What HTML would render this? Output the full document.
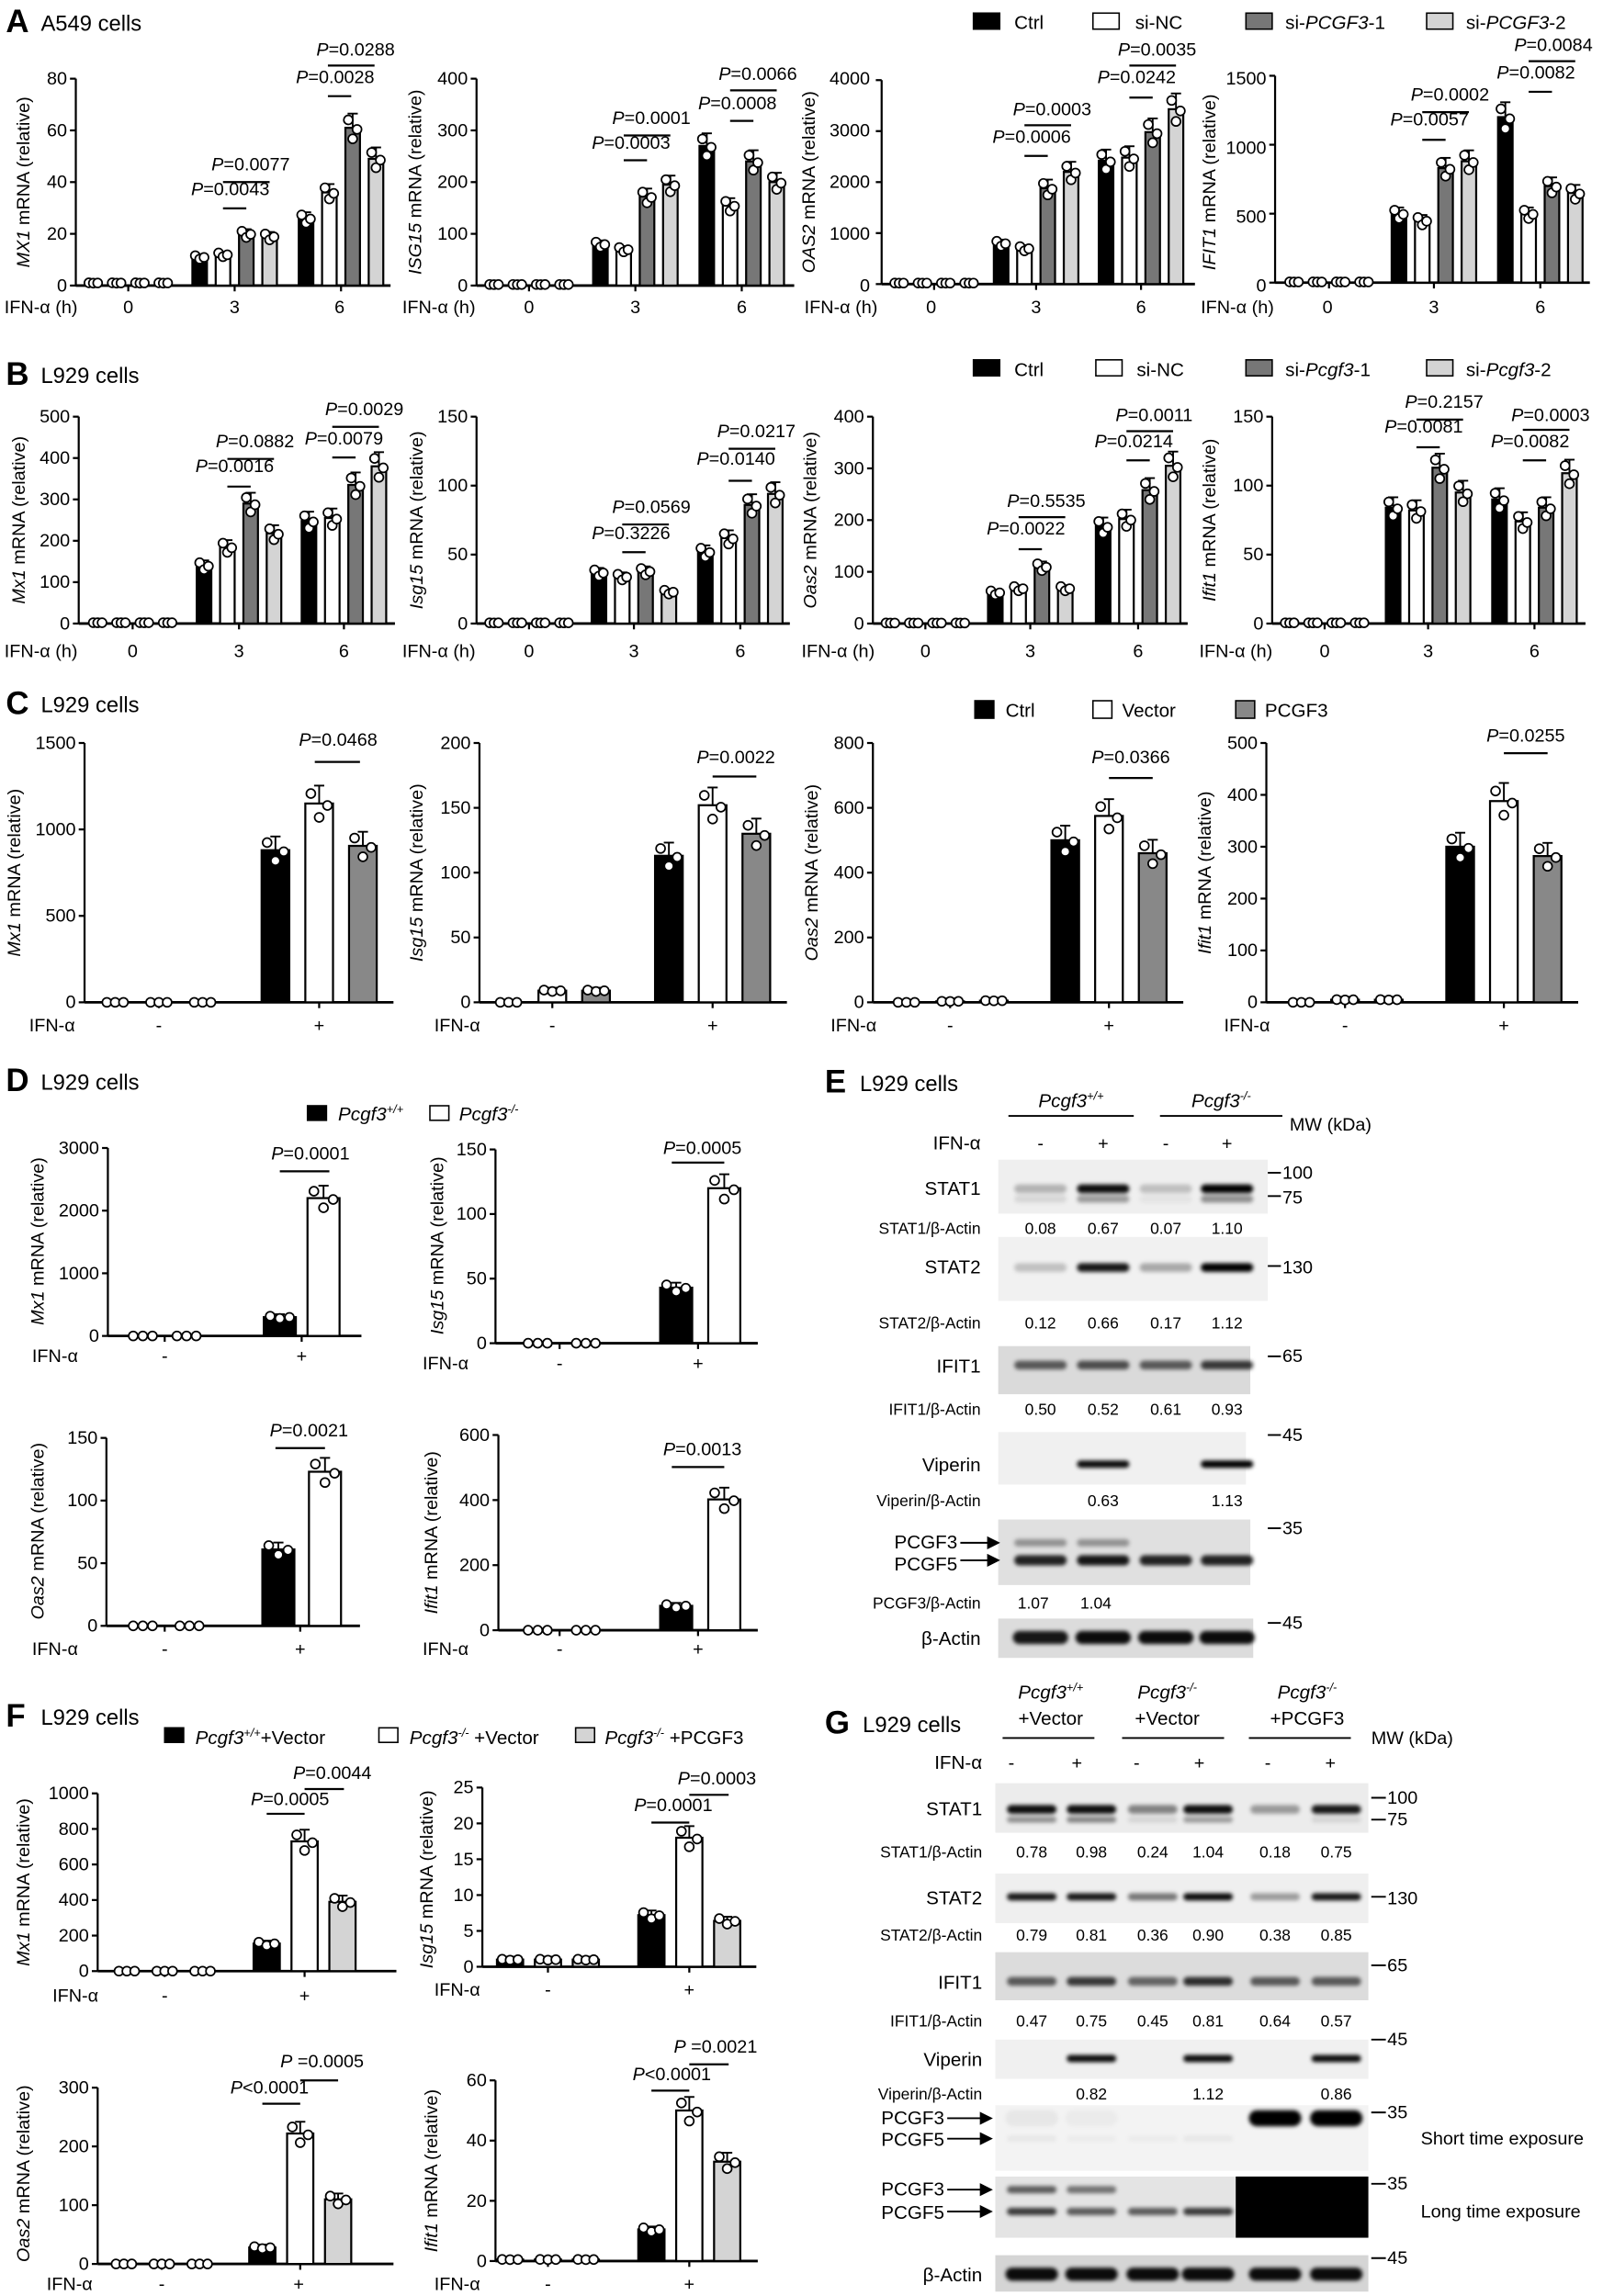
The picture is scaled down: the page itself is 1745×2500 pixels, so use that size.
<!DOCTYPE html>
<html><head><meta charset="utf-8"><style>
html,body{margin:0;padding:0;background:#fff}
svg{display:block}
text{font-family:"Liberation Sans",Arial,sans-serif;fill:#000}
.tk{font-size:12.5px;text-anchor:end}
.xl{font-size:12.5px;text-anchor:middle}
.p{font-size:12.5px;text-anchor:middle}
.yl{font-size:12.5px;text-anchor:middle}
.L{font-size:22px;font-weight:bold}
.ti{font-size:15px}
.lg{font-size:13px}
.bl{font-size:13px;text-anchor:end}
.bv{font-size:11px;text-anchor:middle}
.br{font-size:11px;text-anchor:end}
.mw{font-size:12.5px}
</style></head><body>
<svg id="s" xmlns="http://www.w3.org/2000/svg" width="1745" height="2500" viewBox="0 0 1100 1576">
<defs><filter id="bl" x="-20%" y="-100%" width="140%" height="300%"><feGaussianBlur stdDeviation="1.3"/></filter></defs>
<g id="geo" stroke="#000" stroke-width="1.4" fill="none"></g>

<!-- ============ A ============ -->
<text x="4" y="22" class="L">A</text><text x="28" y="21" class="ti">A549  cells</text>
<rect x="668" y="9" width="18" height="11" fill="#000" stroke="#000"/><text x="696" y="20" class="lg">Ctrl</text>
<rect x="750" y="9" width="18" height="11" fill="#fff" stroke="#000"/><text x="779" y="20" class="lg">si-NC</text>
<rect x="855" y="9" width="18" height="11" fill="#777" stroke="#000"/><text x="882" y="20" class="lg">si-<tspan font-style="italic">PCGF3</tspan>-1</text>
<rect x="979" y="9" width="18" height="11" fill="#d4d4d4" stroke="#000"/><text x="1006" y="20" class="lg">si-<tspan font-style="italic">PCGF3</tspan>-2</text>

<text class="tk" x="46" y="200">0</text><text class="tk" x="46" y="164.5">20</text><text class="tk" x="46" y="129">40</text><text class="tk" x="46" y="93.5">60</text><text class="tk" x="46" y="58">80</text>
<text class="yl" transform="translate(20,125) rotate(-90)"><tspan font-style="italic">MX1</tspan> mRNA (relative)</text>
<text class="tk" x="321" y="200">0</text><text class="tk" x="321" y="164.5">100</text><text class="tk" x="321" y="129">200</text><text class="tk" x="321" y="93.5">300</text><text class="tk" x="321" y="58">400</text>
<text class="yl" transform="translate(289,125) rotate(-90)"><tspan font-style="italic">ISG15</tspan> mRNA (relative)</text>
<text class="tk" x="597" y="200">0</text><text class="tk" x="597" y="164.5">1000</text><text class="tk" x="597" y="129">2000</text><text class="tk" x="597" y="93.5">3000</text><text class="tk" x="597" y="58">4000</text>
<text class="yl" transform="translate(559,125) rotate(-90)"><tspan font-style="italic">OAS2</tspan> mRNA (relative)</text>
<text class="tk" x="869" y="200">0</text><text class="tk" x="869" y="153">500</text><text class="tk" x="869" y="105.5">1000</text><text class="tk" x="869" y="58">1500</text>
<text class="yl" transform="translate(834,125) rotate(-90)"><tspan font-style="italic">IFIT1</tspan> mRNA (relative)</text>
<g>
<text x="3" y="215" style="font-size:12.5px">IFN-α (h)</text><text class="xl" x="88" y="215">0</text><text class="xl" x="161" y="215">3</text><text class="xl" x="233" y="215">6</text>
<text x="276" y="215" style="font-size:12.5px">IFN-α (h)</text><text class="xl" x="363" y="215">0</text><text class="xl" x="436" y="215">3</text><text class="xl" x="509" y="215">6</text>
<text x="552" y="215" style="font-size:12.5px">IFN-α (h)</text><text class="xl" x="639" y="215">0</text><text class="xl" x="711" y="215">3</text><text class="xl" x="783" y="215">6</text>
<text x="824" y="215" style="font-size:12.5px">IFN-α (h)</text><text class="xl" x="911" y="215">0</text><text class="xl" x="984" y="215">3</text><text class="xl" x="1057" y="215">6</text>
</g>
<text class="p" x="158" y="134"><tspan font-style="italic">P</tspan>=0.0043</text>
<text class="p" x="172" y="117"><tspan font-style="italic">P</tspan>=0.0077</text>
<text class="p" x="230" y="57"><tspan font-style="italic">P</tspan>=0.0028</text>
<text class="p" x="244" y="38"><tspan font-style="italic">P</tspan>=0.0288</text>
<text class="p" x="433" y="102"><tspan font-style="italic">P</tspan>=0.0003</text>
<text class="p" x="447" y="85"><tspan font-style="italic">P</tspan>=0.0001</text>
<text class="p" x="506" y="75"><tspan font-style="italic">P</tspan>=0.0008</text>
<text class="p" x="520" y="55"><tspan font-style="italic">P</tspan>=0.0066</text>
<text class="p" x="708" y="98"><tspan font-style="italic">P</tspan>=0.0006</text>
<text class="p" x="722" y="79"><tspan font-style="italic">P</tspan>=0.0003</text>
<text class="p" x="780" y="57"><tspan font-style="italic">P</tspan>=0.0242</text>
<text class="p" x="794" y="38"><tspan font-style="italic">P</tspan>=0.0035</text>
<text class="p" x="981" y="86"><tspan font-style="italic">P</tspan>=0.0057</text>
<text class="p" x="995" y="69"><tspan font-style="italic">P</tspan>=0.0002</text>
<text class="p" x="1054" y="54"><tspan font-style="italic">P</tspan>=0.0082</text>
<text class="p" x="1066" y="35"><tspan font-style="italic">P</tspan>=0.0084</text>

<!-- ============ B ============ -->
<text x="4" y="264" class="L">B</text><text x="28" y="263" class="ti">L929 cells</text>
<rect x="668" y="247" width="18" height="11" fill="#000" stroke="#000"/><text x="696" y="258" class="lg">Ctrl</text>
<rect x="752" y="247" width="18" height="11" fill="#fff" stroke="#000"/><text x="780" y="258" class="lg">si-NC</text>
<rect x="855" y="247" width="18" height="11" fill="#777" stroke="#000"/><text x="882" y="258" class="lg">si-<tspan font-style="italic">Pcgf3</tspan>-1</text>
<rect x="979" y="247" width="18" height="11" fill="#d4d4d4" stroke="#000"/><text x="1006" y="258" class="lg">si-<tspan font-style="italic">Pcgf3</tspan>-2</text>
<text class="tk" x="48" y="432">0</text><text class="tk" x="48" y="403.6">100</text><text class="tk" x="48" y="375.2">200</text><text class="tk" x="48" y="346.8">300</text><text class="tk" x="48" y="318.4">400</text><text class="tk" x="48" y="290">500</text>
<text class="yl" transform="translate(17,357) rotate(-90)"><tspan font-style="italic">Mx1</tspan> mRNA (relative)</text>
<text class="tk" x="321" y="432">0</text><text class="tk" x="321" y="384.7">50</text><text class="tk" x="321" y="337.3">100</text><text class="tk" x="321" y="290">150</text>
<text class="yl" transform="translate(290,357) rotate(-90)"><tspan font-style="italic">Isg15</tspan> mRNA (relative)</text>
<text class="tk" x="593" y="432">0</text><text class="tk" x="593" y="396.5">100</text><text class="tk" x="593" y="361">200</text><text class="tk" x="593" y="325.5">300</text><text class="tk" x="593" y="290">400</text>
<text class="yl" transform="translate(560,357) rotate(-90)"><tspan font-style="italic">Oas2</tspan> mRNA (relative)</text>
<text class="tk" x="867" y="432">0</text><text class="tk" x="867" y="384.7">50</text><text class="tk" x="867" y="337.3">100</text><text class="tk" x="867" y="290">150</text>
<text class="yl" transform="translate(834,357) rotate(-90)"><tspan font-style="italic">Ifit1</tspan> mRNA (relative)</text>
<text x="3" y="451" style="font-size:12.5px">IFN-α (h)</text><text class="xl" x="91" y="451">0</text><text class="xl" x="164" y="451">3</text><text class="xl" x="236" y="451">6</text>
<text x="276" y="451" style="font-size:12.5px">IFN-α (h)</text><text class="xl" x="363" y="451">0</text><text class="xl" x="435" y="451">3</text><text class="xl" x="508" y="451">6</text>
<text x="550" y="451" style="font-size:12.5px">IFN-α (h)</text><text class="xl" x="635" y="451">0</text><text class="xl" x="707" y="451">3</text><text class="xl" x="781" y="451">6</text>
<text x="823" y="451" style="font-size:12.5px">IFN-α (h)</text><text class="xl" x="909" y="451">0</text><text class="xl" x="980" y="451">3</text><text class="xl" x="1053" y="451">6</text>
<text class="p" x="161" y="324"><tspan font-style="italic">P</tspan>=0.0016</text>
<text class="p" x="175" y="307"><tspan font-style="italic">P</tspan>=0.0882</text>
<text class="p" x="236" y="305"><tspan font-style="italic">P</tspan>=0.0079</text>
<text class="p" x="250" y="285"><tspan font-style="italic">P</tspan>=0.0029</text>
<text class="p" x="433" y="370"><tspan font-style="italic">P</tspan>=0.3226</text>
<text class="p" x="447" y="352"><tspan font-style="italic">P</tspan>=0.0569</text>
<text class="p" x="505" y="319"><tspan font-style="italic">P</tspan>=0.0140</text>
<text class="p" x="519" y="300"><tspan font-style="italic">P</tspan>=0.0217</text>
<text class="p" x="704" y="367"><tspan font-style="italic">P</tspan>=0.0022</text>
<text class="p" x="718" y="348"><tspan font-style="italic">P</tspan>=0.5535</text>
<text class="p" x="778" y="307"><tspan font-style="italic">P</tspan>=0.0214</text>
<text class="p" x="792" y="289"><tspan font-style="italic">P</tspan>=0.0011</text>
<text class="p" x="977" y="297"><tspan font-style="italic">P</tspan>=0.0081</text>
<text class="p" x="991" y="280"><tspan font-style="italic">P</tspan>=0.2157</text>
<text class="p" x="1050" y="307"><tspan font-style="italic">P</tspan>=0.0082</text>
<text class="p" x="1064" y="289"><tspan font-style="italic">P</tspan>=0.0003</text>

<!-- ============ C ============ -->
<text x="4" y="490" class="L">C</text><text x="28" y="489" class="ti">L929 cells</text>
<rect x="669" y="481" width="13" height="12" fill="#000" stroke="#000"/><text x="690" y="492" class="lg">Ctrl</text>
<rect x="750" y="481" width="13" height="12" fill="#fff" stroke="#000"/><text x="770" y="492" class="lg">Vector</text>
<rect x="848" y="481" width="13" height="12" fill="#888" stroke="#000"/><text x="868" y="492" class="lg">PCGF3</text>
<text class="tk" x="52" y="692">0</text><text class="tk" x="52" y="632.7">500</text><text class="tk" x="52" y="573.3">1000</text><text class="tk" x="52" y="514">1500</text>
<text class="yl" transform="translate(14,599) rotate(-90)"><tspan font-style="italic">Mx1</tspan> mRNA (relative)</text>
<text class="tk" x="323" y="692">0</text><text class="tk" x="323" y="647.5">50</text><text class="tk" x="323" y="603">100</text><text class="tk" x="323" y="558.5">150</text><text class="tk" x="323" y="514">200</text>
<text class="yl" transform="translate(290,599) rotate(-90)"><tspan font-style="italic">Isg15</tspan> mRNA (relative)</text>
<text class="tk" x="593" y="692">0</text><text class="tk" x="593" y="647.5">200</text><text class="tk" x="593" y="603">400</text><text class="tk" x="593" y="558.5">600</text><text class="tk" x="593" y="514">800</text>
<text class="yl" transform="translate(561,599) rotate(-90)"><tspan font-style="italic">Oas2</tspan> mRNA (relative)</text>
<text class="tk" x="863" y="692">0</text><text class="tk" x="863" y="656.4">100</text><text class="tk" x="863" y="620.8">200</text><text class="tk" x="863" y="585.2">300</text><text class="tk" x="863" y="549.6">400</text><text class="tk" x="863" y="514">500</text>
<text class="yl" transform="translate(831,599) rotate(-90)"><tspan font-style="italic">Ifit1</tspan> mRNA (relative)</text>
<text x="20" y="708" style="font-size:12.5px">IFN-α</text><text class="xl" x="109" y="708">-</text><text class="xl" x="219" y="708">+</text>
<text x="298" y="708" style="font-size:12.5px">IFN-α</text><text class="xl" x="379" y="708">-</text><text class="xl" x="489" y="708">+</text>
<text x="570" y="708" style="font-size:12.5px">IFN-α</text><text class="xl" x="652" y="708">-</text><text class="xl" x="761" y="708">+</text>
<text x="840" y="708" style="font-size:12.5px">IFN-α</text><text class="xl" x="923" y="708">-</text><text class="xl" x="1032" y="708">+</text>
<text class="p" x="232" y="512"><tspan font-style="italic">P</tspan>=0.0468</text>
<text class="p" x="505" y="524"><tspan font-style="italic">P</tspan>=0.0022</text>
<text class="p" x="776" y="524"><tspan font-style="italic">P</tspan>=0.0366</text>
<text class="p" x="1047" y="509"><tspan font-style="italic">P</tspan>=0.0255</text>

<!-- ============ D ============ -->
<text x="4" y="749" class="L">D</text><text x="28" y="748" class="ti">L929 cells</text>
<rect x="211" y="759" width="13" height="10" fill="#000" stroke="#000"/><text x="232" y="769" class="lg" font-style="italic">Pcgf3<tspan font-size="8" dy="-5">+/+</tspan></text>
<rect x="295" y="759" width="13" height="10" fill="#fff" stroke="#000"/><text x="315" y="769" class="lg" font-style="italic">Pcgf3<tspan font-size="8" dy="-5">-/-</tspan></text>
<text class="tk" x="68" y="921">0</text><text class="tk" x="68" y="878">1000</text><text class="tk" x="68" y="835">2000</text><text class="tk" x="68" y="792">3000</text>
<text class="yl" transform="translate(30,852) rotate(-90)"><tspan font-style="italic">Mx1</tspan> mRNA (relative)</text>
<text class="tk" x="334" y="926">0</text><text class="tk" x="334" y="881.7">50</text><text class="tk" x="334" y="837.3">100</text><text class="tk" x="334" y="793">150</text>
<text class="yl" transform="translate(304,855) rotate(-90)"><tspan font-style="italic">Isg15</tspan> mRNA (relative)</text>
<text x="22" y="935" style="font-size:12.5px">IFN-α</text><text class="xl" x="113" y="935">-</text><text class="xl" x="207" y="935">+</text>
<text x="290" y="940" style="font-size:12.5px">IFN-α</text><text class="xl" x="384" y="940">-</text><text class="xl" x="479" y="940">+</text>
<text class="tk" x="67" y="1120">0</text><text class="tk" x="67" y="1077">50</text><text class="tk" x="67" y="1034">100</text><text class="tk" x="67" y="991">150</text>
<text class="yl" transform="translate(30,1051) rotate(-90)"><tspan font-style="italic">Oas2</tspan> mRNA (relative)</text>
<text class="tk" x="336" y="1123">0</text><text class="tk" x="336" y="1078.3">200</text><text class="tk" x="336" y="1033.7">400</text><text class="tk" x="336" y="989">600</text>
<text class="yl" transform="translate(300,1052) rotate(-90)"><tspan font-style="italic">Ifit1</tspan> mRNA (relative)</text>
<text x="22" y="1136" style="font-size:12.5px">IFN-α</text><text class="xl" x="113" y="1136">-</text><text class="xl" x="206" y="1136">+</text>
<text x="290" y="1136" style="font-size:12.5px">IFN-α</text><text class="xl" x="384" y="1136">-</text><text class="xl" x="479" y="1136">+</text>
<text class="p" x="213" y="796"><tspan font-style="italic">P</tspan>=0.0001</text>
<text class="p" x="482" y="792"><tspan font-style="italic">P</tspan>=0.0005</text>
<text class="p" x="212" y="986"><tspan font-style="italic">P</tspan>=0.0021</text>
<text class="p" x="482" y="999"><tspan font-style="italic">P</tspan>=0.0013</text>

<!-- ============ E ============ -->
<text x="566" y="750" class="L">E</text><text x="590" y="749" class="ti">L929 cells</text>
<text x="735" y="760" class="lg" text-anchor="middle" font-style="italic">Pcgf3<tspan font-size="8" dy="-5">+/+</tspan></text>
<text x="838" y="760" class="lg" text-anchor="middle" font-style="italic">Pcgf3<tspan font-size="8" dy="-5">-/-</tspan></text>
<line x1="692" y1="766" x2="778" y2="766" stroke="#000" stroke-width="1.2"/><line x1="796" y1="766" x2="880" y2="766" stroke="#000" stroke-width="1.2"/>
<text x="885" y="776" class="mw">MW (kDa)</text>
<text x="673" y="789" class="bl">IFN-α</text>
<text x="714" y="789" class="xl">-</text><text x="757" y="789" class="xl">+</text><text x="800" y="789" class="xl">-</text><text x="842" y="789" class="xl">+</text>
<rect x="685" y="796" width="185" height="37" fill="#efefef"/>
<rect x="685" y="849" width="185" height="44" fill="#f1f1f1"/>
<rect x="685" y="924" width="173" height="33" fill="#dadada"/>
<rect x="685" y="983" width="170" height="36" fill="#f0f0f0"/>
<rect x="685" y="1043" width="173" height="45" fill="#e0e0e0"/>
<rect x="685" y="1111" width="175" height="27" fill="#dcdcdc"/>
<text x="673" y="820" class="bl">STAT1</text><text x="673" y="874" class="bl">STAT2</text><text x="673" y="942" class="bl">IFIT1</text><text x="673" y="1010" class="bl">Viperin</text>
<text x="657" y="1063" class="bl">PCGF3</text><text x="657" y="1078" class="bl">PCGF5</text><text x="673" y="1129" class="bl">β-Actin</text>
<text x="673" y="847" class="br">STAT1/β-Actin</text><text x="714" y="847" class="bv">0.08</text><text x="757" y="847" class="bv">0.67</text><text x="800" y="847" class="bv">0.07</text><text x="842" y="847" class="bv">1.10</text>
<text x="673" y="912" class="br">STAT2/β-Actin</text><text x="714" y="912" class="bv">0.12</text><text x="757" y="912" class="bv">0.66</text><text x="800" y="912" class="bv">0.17</text><text x="842" y="912" class="bv">1.12</text>
<text x="673" y="971" class="br">IFIT1/β-Actin</text><text x="714" y="971" class="bv">0.50</text><text x="757" y="971" class="bv">0.52</text><text x="800" y="971" class="bv">0.61</text><text x="842" y="971" class="bv">0.93</text>
<text x="673" y="1034" class="br">Viperin/β-Actin</text><text x="757" y="1034" class="bv">0.63</text><text x="842" y="1034" class="bv">1.13</text>
<text x="673" y="1104" class="br">PCGF3/β-Actin</text><text x="709" y="1104" class="bv">1.07</text><text x="752" y="1104" class="bv">1.04</text>
<text x="880" y="809" class="mw">100</text><text x="880" y="826" class="mw">75</text><text x="880" y="874" class="mw">130</text><text x="880" y="935" class="mw">65</text><text x="880" y="989" class="mw">45</text><text x="880" y="1053" class="mw">35</text><text x="880" y="1118" class="mw">45</text>

<!-- ============ F ============ -->
<text x="4" y="1185" class="L">F</text><text x="28" y="1184" class="ti">L929 cells</text>
<rect x="113" y="1186" width="13" height="10" fill="#000" stroke="#000"/><text x="134" y="1197" class="lg"><tspan font-style="italic">Pcgf3</tspan><tspan font-size="8" dy="-5" font-style="italic">+/+</tspan><tspan dy="5">+Vector</tspan></text>
<rect x="260" y="1186" width="13" height="10" fill="#fff" stroke="#000"/><text x="281" y="1197" class="lg"><tspan font-style="italic">Pcgf3</tspan><tspan font-size="8" dy="-5" font-style="italic">-/-</tspan><tspan dy="5"> +Vector</tspan></text>
<rect x="395" y="1186" width="13" height="10" fill="#d4d4d4" stroke="#000"/><text x="415" y="1197" class="lg"><tspan font-style="italic">Pcgf3</tspan><tspan font-size="8" dy="-5" font-style="italic">-/-</tspan><tspan dy="5"> +PCGF3</tspan></text>
<text class="tk" x="61" y="1357">0</text><text class="tk" x="61" y="1332.6">200</text><text class="tk" x="61" y="1308.2">400</text><text class="tk" x="61" y="1283.8">600</text><text class="tk" x="61" y="1259.4">800</text><text class="tk" x="61" y="1235">1000</text>
<text class="yl" transform="translate(20,1292) rotate(-90)"><tspan font-style="italic">Mx1</tspan> mRNA (relative)</text>
<text class="tk" x="325" y="1354">0</text><text class="tk" x="325" y="1329.4">5</text><text class="tk" x="325" y="1304.8">10</text><text class="tk" x="325" y="1280.2">15</text><text class="tk" x="325" y="1255.6">20</text><text class="tk" x="325" y="1231">25</text>
<text class="yl" transform="translate(297,1290) rotate(-90)"><tspan font-style="italic">Isg15</tspan> mRNA (relative)</text>
<text x="36" y="1374" style="font-size:12.5px">IFN-α</text><text class="xl" x="113" y="1374">-</text><text class="xl" x="209" y="1374">+</text>
<text x="298" y="1370" style="font-size:12.5px">IFN-α</text><text class="xl" x="376" y="1370">-</text><text class="xl" x="473" y="1370">+</text>
<text class="tk" x="61" y="1558">0</text><text class="tk" x="61" y="1517.7">100</text><text class="tk" x="61" y="1477.3">200</text><text class="tk" x="61" y="1437">300</text>
<text class="yl" transform="translate(20,1492) rotate(-90)"><tspan font-style="italic">Oas2</tspan> mRNA (relative)</text>
<text class="tk" x="334" y="1556">0</text><text class="tk" x="334" y="1514.7">20</text><text class="tk" x="334" y="1473.3">40</text><text class="tk" x="334" y="1432">60</text>
<text class="yl" transform="translate(300,1490) rotate(-90)"><tspan font-style="italic">Ifit1</tspan> mRNA (relative)</text>
<text x="32" y="1572" style="font-size:12.5px">IFN-α</text><text class="xl" x="111" y="1572">-</text><text class="xl" x="205" y="1572">+</text>
<text x="298" y="1572" style="font-size:12.5px">IFN-α</text><text class="xl" x="376" y="1572">-</text><text class="xl" x="473" y="1572">+</text>
<text class="p" x="199" y="1239"><tspan font-style="italic">P</tspan>=0.0005</text>
<text class="p" x="228" y="1221"><tspan font-style="italic">P</tspan>=0.0044</text>
<text class="p" x="462" y="1243"><tspan font-style="italic">P</tspan>=0.0001</text>
<text class="p" x="492" y="1225"><tspan font-style="italic">P</tspan>=0.0003</text>
<text class="p" x="185" y="1437"><tspan font-style="italic">P</tspan>&lt;0.0001</text>
<text class="p" x="221" y="1419"><tspan font-style="italic">P</tspan> =0.0005</text>
<text class="p" x="461" y="1428"><tspan font-style="italic">P</tspan>&lt;0.0001</text>
<text class="p" x="491" y="1409"><tspan font-style="italic">P</tspan> =0.0021</text>

<!-- ============ G ============ -->
<text x="566" y="1190" class="L">G</text><text x="592" y="1189" class="ti">L929 cells</text>
<text x="721" y="1166" class="lg" text-anchor="middle" font-style="italic">Pcgf3<tspan font-size="8" dy="-5">+/+</tspan></text><text x="721" y="1184" class="lg" text-anchor="middle">+Vector</text>
<text x="801" y="1166" class="lg" text-anchor="middle" font-style="italic">Pcgf3<tspan font-size="8" dy="-5">-/-</tspan></text><text x="801" y="1184" class="lg" text-anchor="middle">+Vector</text>
<text x="897" y="1166" class="lg" text-anchor="middle" font-style="italic">Pcgf3<tspan font-size="8" dy="-5">-/-</tspan></text><text x="897" y="1184" class="lg" text-anchor="middle">+PCGF3</text>
<line x1="688" y1="1193" x2="751" y2="1193" stroke="#000" stroke-width="1.2"/><line x1="770" y1="1193" x2="840" y2="1193" stroke="#000" stroke-width="1.2"/><line x1="857" y1="1193" x2="927" y2="1193" stroke="#000" stroke-width="1.2"/>
<text x="941" y="1197" class="mw">MW (kDa)</text>
<text x="674" y="1214" class="bl">IFN-α</text>
<text x="694" y="1214" class="xl">-</text><text x="739" y="1214" class="xl">+</text><text x="780" y="1214" class="xl">-</text><text x="823" y="1214" class="xl">+</text><text x="870" y="1214" class="xl">-</text><text x="913" y="1214" class="xl">+</text>
<rect x="683" y="1224" width="256" height="34" fill="#ececec"/>
<rect x="683" y="1286" width="256" height="34" fill="#efefef"/>
<rect x="683" y="1340" width="256" height="33" fill="#dcdcdc"/>
<rect x="683" y="1400" width="256" height="27" fill="#f0f0f0"/>
<rect x="683" y="1445" width="256" height="45" fill="#f3f3f3"/>
<rect x="683" y="1494" width="256" height="42" fill="#e4e4e4"/>
<rect x="683" y="1548" width="256" height="25" fill="#d5d5d5"/>
<text x="674" y="1246" class="bl">STAT1</text><text x="674" y="1307" class="bl">STAT2</text><text x="674" y="1365" class="bl">IFIT1</text><text x="674" y="1418" class="bl">Viperin</text>
<text x="648" y="1458" class="bl">PCGF3</text><text x="648" y="1473" class="bl">PCGF5</text>
<text x="648" y="1507" class="bl">PCGF3</text><text x="648" y="1523" class="bl">PCGF5</text>
<text x="674" y="1566" class="bl">β-Actin</text>
<text x="674" y="1275" class="br">STAT1/β-Actin</text><text x="708" y="1275" class="bv">0.78</text><text x="749" y="1275" class="bv">0.98</text><text x="791" y="1275" class="bv">0.24</text><text x="829" y="1275" class="bv">1.04</text><text x="875" y="1275" class="bv">0.18</text><text x="917" y="1275" class="bv">0.75</text>
<text x="674" y="1332" class="br">STAT2/β-Actin</text><text x="708" y="1332" class="bv">0.79</text><text x="749" y="1332" class="bv">0.81</text><text x="791" y="1332" class="bv">0.36</text><text x="829" y="1332" class="bv">0.90</text><text x="875" y="1332" class="bv">0.38</text><text x="917" y="1332" class="bv">0.85</text>
<text x="674" y="1391" class="br">IFIT1/β-Actin</text><text x="708" y="1391" class="bv">0.47</text><text x="749" y="1391" class="bv">0.75</text><text x="791" y="1391" class="bv">0.45</text><text x="829" y="1391" class="bv">0.81</text><text x="875" y="1391" class="bv">0.64</text><text x="917" y="1391" class="bv">0.57</text>
<text x="674" y="1441" class="br">Viperin/β-Actin</text><text x="749" y="1441" class="bv">0.82</text><text x="829" y="1441" class="bv">1.12</text><text x="917" y="1441" class="bv">0.86</text>
<text x="952" y="1238" class="mw">100</text><text x="952" y="1253" class="mw">75</text><text x="952" y="1307" class="mw">130</text><text x="952" y="1353" class="mw">65</text><text x="952" y="1404" class="mw">45</text><text x="952" y="1454" class="mw">35</text><text x="952" y="1503" class="mw">35</text><text x="952" y="1554" class="mw">45</text>
<text x="975" y="1472" class="mw">Short time exposure</text><text x="975" y="1522" class="mw">Long time exposure</text>
</svg>
<script>
(function(){
var G=document.getElementById('geo'),NS='http://www.w3.org/2000/svg';
function el(t,a,p){var e=document.createElementNS(NS,t);for(var k in a)e.setAttribute(k,a[k]);(p||G).appendChild(e);return e}
function ln(x1,y1,x2,y2,w){el('line',{x1:x1,y1:y1,x2:x2,y2:y2,'stroke-width':w||1.4})}
function panel(o){
  var H=o.base-o.top;
  ln(o.ax,o.top,o.ax,o.base);ln(o.ax,o.base,o.x2,o.base,1.8);
  for(var i=0;i<=o.nt;i++){var y=o.base-H*i/o.nt;ln(o.ax-4,y,o.ax,y)}
  o.c.forEach(function(c,gi){
    ln(c,o.base,c,o.base+4);
    o.d[gi].forEach(function(v,j){
      var h=v/o.max*H,x=c+o.off[j];
      if(h>0.5){el('rect',{x:x-o.w/2,y:o.base-h,width:o.w,height:h,fill:o.col[j]});
        var e=Math.max(h*0.09,2);ln(x,o.base-h,x,o.base-h-e,1.2);ln(x-3.5,o.base-h-e,x+3.5,o.base-h-e,1.2);}
      var r=3.1,dx=[-o.w*0.3,0,o.w*0.3],dy=[1.05,0.93,0.99];
      for(var k=0;k<3;k++){el('circle',{cx:x+dx[k],cy:o.base-h*dy[k],r:r,fill:'#fff','stroke-width':1.1})}
    });
  });
  (o.p||[]).forEach(function(p){ln(p[1],p[0],p[2],p[0],1.4)});
}
var c4=['#000','#fff','#777','#d4d4d4'],o4=[-24,-8,8,24];
function cen(ax){return [ax+36,ax+109,ax+182]}
panel({ax:52,x2:268,top:54,base:196,max:80,nt:4,c:cen(52),off:o4,w:10,col:c4,d:[[1,1,1,1],[11,12,20,19],[26,36,61,49]],
 p:[[143,153,169],[125,153,185],[66,225,241],[45,225,257]]});
panel({ax:327,x2:545,top:54,base:196,max:400,nt:4,c:cen(327),off:o4,w:10,col:c4,d:[[2,2,2,2],[80,70,172,195],[270,155,240,200]],
 p:[[110,428,444],[93,428,460],[83,501,517],[62,501,533]]});
panel({ax:605,x2:820,top:55,base:195,max:4000,nt:4,c:[641,711,783],off:o4,w:10,col:c4,d:[[20,20,20,20],[800,700,1880,2200],[2420,2480,2980,3430]],
 p:[[107,703,719],[86,703,735],[67,775,791],[45,775,807]]});
panel({ax:875,x2:1091,top:52,base:194,max:1500,nt:3,c:[912,984,1057],off:o4,w:10,col:c4,d:[[5,5,5,5],[500,450,830,880],[1200,500,700,650]],
 p:[[96,976,992],[77,976,1008],[63,1049,1065],[42,1049,1081]]});
panel({ax:54,x2:271,top:286,base:428,max:500,nt:5,c:[91,164,236],off:o4,w:10,col:c4,d:[[2,2,2,2],[140,185,290,218],[248,255,335,380]],
 p:[[334,156,172],[315,156,188],[314,228,244],[293,228,260]]});
panel({ax:327,x2:542,top:286,base:428,max:150,nt:3,c:[363,435,508],off:o4,w:10,col:c4,d:[[0.5,0.5,0.5,0.5],[37,34,38,23],[52,62,86,94]],
 p:[[379,427,443],[360,427,459],[330,500,516],[308,500,532]]});
panel({ax:599,x2:815,top:286,base:428,max:400,nt:4,c:[635,707,781],off:o4,w:10,col:c4,d:[[1,1,1,1],[60,68,110,68],[188,202,258,305]],
 p:[[377,699,715],[355,699,731],[316,773,789],[296,773,805]]});
panel({ax:873,x2:1088,top:286,base:428,max:150,nt:3,c:[909,980,1053],off:o4,w:10,col:c4,d:[[0.5,0.5,0.5,0.5],[84,82,113,95],[90,74,84,109]],
 p:[[307,972,988],[288,972,1004],[316,1045,1061],[295,1045,1077]]});
var c3=['#000','#fff','#888'],o3=[-30,0,30];
panel({ax:58,x2:270,top:510,base:688,max:1500,nt:3,c:[109,219],off:o3,w:19,col:c3,d:[[0,0,0],[880,1150,905]],p:[[523,216,247]]});
panel({ax:329,x2:540,top:510,base:688,max:200,nt:4,c:[379,489],off:o3,w:19,col:c3,d:[[0,9,9],[113,152,130]],p:[[533,489,519]]});
panel({ax:599,x2:812,top:510,base:688,max:800,nt:4,c:[652,761],off:o3,w:19,col:c3,d:[[0,3,5],[500,575,460]],p:[[534,761,791]]});
panel({ax:869,x2:1083,top:510,base:688,max:500,nt:5,c:[923,1032],off:o3,w:19,col:c3,d:[[0,5,5],[300,388,282]],p:[[517,1032,1062]]});
var c2=['#000','#fff'];
panel({ax:74,x2:248,top:788,base:917,max:3000,nt:3,c:[113,207],off:[-15,15],w:22,col:c2,d:[[0,0],[300,2200]],p:[[804,192,226]]});
panel({ax:340,x2:520,top:789,base:922,max:150,nt:3,c:[384,479],off:[-15,18],w:22,col:c2,d:[[0,0],[43,120]],p:[[798,461,497]]});
panel({ax:73,x2:247,top:987,base:1116,max:150,nt:3,c:[113,206],off:[-15,17],w:22,col:c2,d:[[0,0],[61,123]],p:[[994,189,223]]});
panel({ax:342,x2:520,top:985,base:1119,max:600,nt:3,c:[384,479],off:[-15,18],w:22,col:c2,d:[[0,0],[75,402]],p:[[1007,461,497]]});
var cf=['#000','#fff','#d4d4d4'],of=[-26,0,26];
panel({ax:67,x2:272,top:1231,base:1353,max:1000,nt:5,c:[113,209],off:of,w:18,col:cf,d:[[0,0,0],[155,730,390]],p:[[1245,183,209],[1228,209,236]]});
panel({ax:331,x2:519,top:1227,base:1350,max:25,nt:5,c:[376,473],off:of,w:18,col:cf,d:[[1,1,1],[7.2,18,6.4]],p:[[1251,447,473],[1232,473,500]]});
panel({ax:67,x2:270,top:1433,base:1554,max:300,nt:3,c:[111,206],off:of,w:18,col:cf,d:[[0,0,0],[28,222,110]],p:[[1444,180,206],[1428,206,232]]});
panel({ax:340,x2:520,top:1428,base:1552,max:60,nt:3,c:[376,473],off:of,w:18,col:cf,d:[[0.5,0.5,0.5],[10.5,50,33]],p:[[1435,447,473],[1417,473,500]]});
var S=document.getElementById('s');
var B=el('g',{filter:'url(#bl)',stroke:'none'},S);
function band(x,y,w,h,op){if(op>0)el('rect',{x:x-w/2,y:y-h/2,width:w,height:h,rx:h/2,fill:'#000','fill-opacity':op,stroke:'none'},B)}
var LE=[714,757,800,842];
function row(L,y,ops,w,h){L.forEach(function(x,i){band(x,y,w,h,ops[i])})}
row(LE,816,[.25,.95,.2,1],36,6);row(LE,823,[.1,.35,.05,.4],36,5);
row(LE,870,[.2,.9,.3,1],36,6);
row(LE,937,[.6,.65,.6,.75],36,6);
row(LE,1005,[0,.95,0,1],36,5);
row(LE,1059,[.35,.35,0,0],36,5);row(LE,1071,[.85,.9,.85,.85],36,7);
row(LE,1124,[.9,.95,.95,.95],38,9);
var LG=[708,749,791,829,875,917];
row(LG,1242,[.95,.95,.45,.95,.35,.9],34,6);row(LG,1249,[.4,.45,.1,.35,0,.1],34,4);
row(LG,1302,[.9,.9,.5,.95,.35,.9],34,5);
row(LG,1360,[.6,.75,.55,.8,.6,.6],34,6);
row(LG,1413,[0,.95,0,.95,0,.95],34,5);
row(LG,1454,[.05,.03,0,0,1,1],36,11);row(LG,1468,[.05,.03,.03,.05,0,0],34,4);
row(LG,1503,[.6,.5,0,0,0,0],34,5);row(LG,1518,[.75,.6,.6,.75,0,0],34,5);
el('rect',{x:848,y:1494,width:91,height:42,fill:'#000',stroke:'none'},S);
row(LG,1561,[.95,.95,.95,.95,.95,.95],36,9);
var M=el('g',{stroke:'#000','stroke-width':1.2},S);
[805,821,869,931,985,1049,1114].forEach(function(y){el('line',{x1:870,y1:y,x2:879,y2:y},M)});
[1234,1249,1302,1349,1400,1450,1499,1550].forEach(function(y){el('line',{x1:941,y1:y,x2:951,y2:y},M)});
function arrow(x1,x2,y){el('line',{x1:x1,y1:y,x2:x2-6,y2:y},M);el('polygon',{points:(x2-7)+','+(y-3.5)+' '+x2+','+y+' '+(x2-7)+','+(y+3.5),fill:'#000'},M)}
arrow(659,685,1059);arrow(659,685,1071);
arrow(650,680,1454);arrow(650,680,1468);arrow(650,680,1503);arrow(650,680,1518);
})();
</script>
</body></html>
